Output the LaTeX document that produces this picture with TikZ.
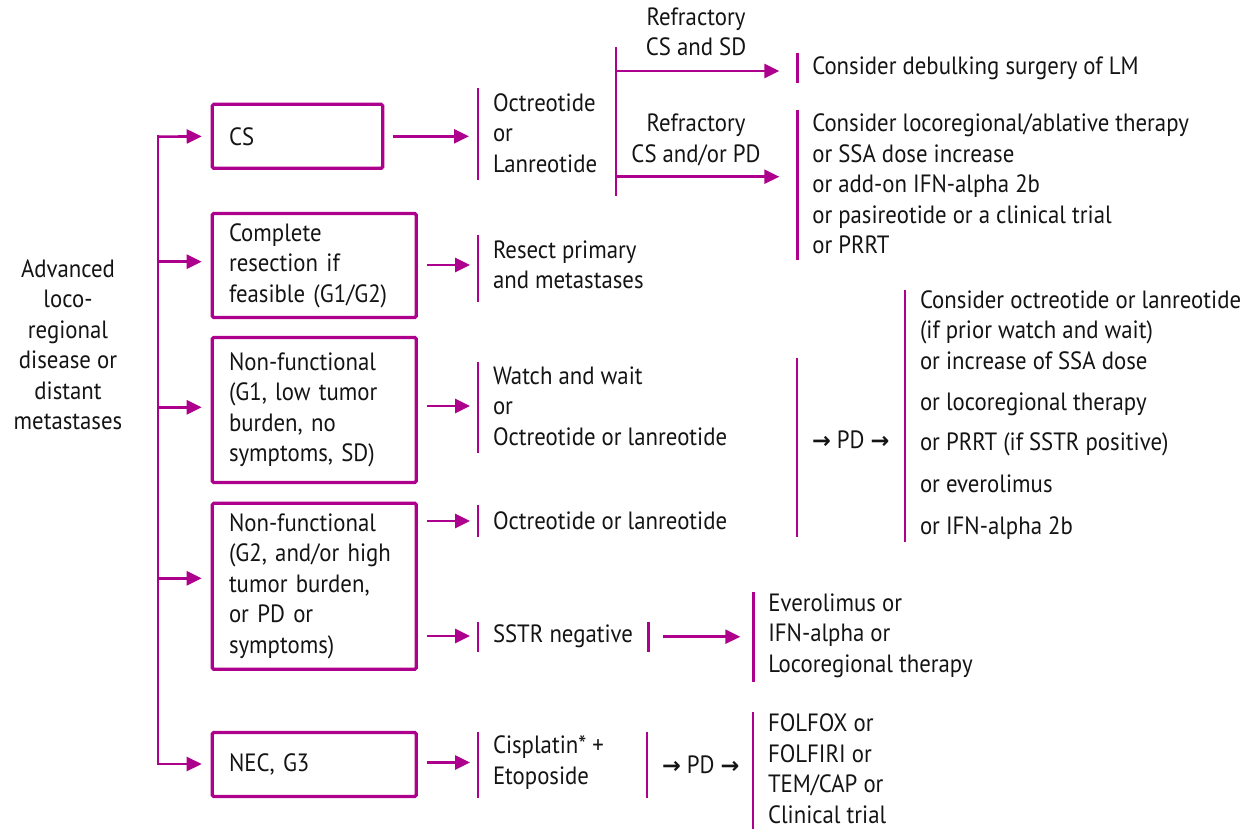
\documentclass[tikz,border=0pt]{standalone}
\usepackage{fontspec}
\setmainfont{PT Sans}[FakeStretch=0.912]
\newfontfamily\arrfont{DejaVu Sans Bold}[Scale=0.9]
\newcommand{\ra}{{\arrfont →}}
\usetikzlibrary{arrows.meta}
\definecolor{mag}{RGB}{173,0,140}
\definecolor{ink}{RGB}{20,20,20}
\tikzset{
  conn/.style={draw=mag, line width=2.6pt},
  arr/.style={conn, -{Triangle[length=15pt,width=14pt]}},
  barline/.style={draw=mag, line width=2.6pt},
  box/.style={draw=mag, line width=3.3pt, rounded corners=1.5pt, anchor=west,
    inner xsep=16.7pt, inner ysep=0pt, outer sep=0pt, align=left, text=ink},
  blk/.style={anchor=west, inner xsep=15pt, inner ysep=0pt, outer sep=0pt,
    align=left, text=ink},
  lbl/.style={inner sep=0pt, align=center, text=ink},
}
% vertical bar on the west side of a text block, between two heights
\newcommand{\westbar}[3]{\draw[barline] (#1.west |- 0,#2) -- (#1.west |- 0,#3);}
\begin{document}
\begin{tikzpicture}[x=1pt, y=-1pt, font=\fontsize{25}{30.5}\selectfont]
\useasboundingbox (0,0) rectangle (1243,829);

% entry label
\node[lbl] (adv) at (68,345) {Advanced\\loco-\\regional\\disease or\\distant\\metastases};

% trunk
\coordinate (t1) at (158,136.7);
\coordinate (t2) at (158,261.7);
\coordinate (t3) at (158,407.3);
\coordinate (t4) at (158,578.3);
\coordinate (t5) at (158,764);
\draw[conn, line cap=rect] (t1) -- (t5);

% first-level boxes
\node[box, text width=137pt, minimum height=64pt] (cs) at (212.3,136.3) {CS};
\node[box, text width=170.6pt, minimum height=104pt] (cr) at (212.3,265.5) {Complete\\resection if\\feasible (G1/G2)};
\node[box, text width=170.6pt, minimum height=145pt] (nf1) at (212.3,410) {Non-functional\\(G1, low tumor\\burden, no\\symptoms, SD)};
\node[box, text width=170.6pt, minimum height=166pt] (nf2) at (212.3,586.3) {Non-functional\\(G2, and/or high\\tumor burden,\\or PD or\\symptoms)};
\node[box, text width=170.6pt, minimum height=64pt] (nec) at (212.3,764.5) {NEC, G3};

\draw[arr, shorten >=10.6pt] (t1) -- (cs.west);
\draw[arr, shorten >=10.6pt] (t2) -- (cr.west |- t2);
\draw[arr, shorten >=10.6pt] (t3) -- (nf1.west |- t3);
\draw[arr, shorten >=10.6pt] (t4) -- (nf2.west |- t4);
\draw[arr, shorten >=10.6pt] (t5) -- (nec.west |- t5);

% second-level text blocks
\node[blk] (oct) at (478,133) {Octreotide\\or\\Lanreotide};
\node[blk] (res) at (478,265) {Resect primary\\and metastases};
\node[blk] (ww) at (478,406) {Watch and wait\\or\\Octreotide or lanreotide};
\node[blk] (oct2) at (478,521) {Octreotide or lanreotide};
\node[blk] (sstr) at (478,636) {SSTR negative};
\node[blk] (cis) at (478,762.5) {Cisplatin* +\\Etoposide};

\westbar{oct}{88.3}{180}
\westbar{res}{235}{301.7}
\westbar{ww}{361.7}{453.3}
\westbar{oct2}{505}{536.7}
\westbar{sstr}{621.7}{651.7}
\westbar{cis}{732}{798}

\draw[arr, shorten <=10.5pt, shorten >=9pt] (cs.east) -- (oct.west |- cs.east);
\draw[arr, shorten <=10.5pt, shorten >=8pt] (cr.east |- res) -- (res.west);
\draw[arr, shorten <=10.5pt, shorten >=8pt] (nf1.east |- ww) -- (ww.west);
\draw[arr, shorten <=10.5pt, shorten >=8pt] (nf2.east |- oct2) -- (oct2.west);
\draw[arr, shorten <=10.5pt, shorten >=8pt] (nf2.east |- sstr) -- (sstr.west);
\draw[arr, shorten <=10.5pt, shorten >=8pt] (nec.east |- cis) -- (cis.west);

% refractory CS branches
\coordinate (v1) at (616,47.3);
\coordinate (v2) at (616,196);
\coordinate (b1) at (616,71);
\coordinate (b2) at (616,176.7);
\draw[conn] (v1) -- (v2);
\node[lbl] (rsd) at (696,32) {Refractory\\CS and SD};
\node[lbl] (rpd) at (696,140) {Refractory\\CS and/or PD};
\node[blk] (deb) at (797.3,68) {Consider debulking surgery of LM};
\node[blk] (loc) at (797.3,184) {Consider locoregional/ablative therapy\\or SSA dose increase\\or add-on IFN-alpha 2b\\or pasireotide or a clinical trial\\or PRRT};
\westbar{deb}{53.3}{83.3}
\westbar{loc}{110}{260}
\draw[arr, shorten >=18pt] (b1) -- (deb.west |- b1);
\draw[arr, shorten >=18pt] (b2) -- (loc.west |- b2);

% progression after watch and wait / SSA
\node[blk] (pd1) at (797,440) {\ra{} PD \ra};
\westbar{pd1}{358}{537}
\node[blk] (opt) at (905,415) {Consider octreotide or lanreotide\\(if prior watch and wait)\\or increase of SSA dose\\[10.5pt]or locoregional therapy\\[10pt]or PRRT (if SSTR positive)\\[11.5pt]or everolimus\\[11.5pt]or IFN-alpha 2b};
\westbar{opt}{290}{542}

% SSTR negative branch
\coordinate (sr) at (648.3,636.7);
\draw[barline] (648.3,621.7) -- (648.3,651.7);
\node[blk] (evr) at (753.3,635.5) {Everolimus or\\IFN-alpha or\\Locoregional therapy};
\westbar{evr}{591.7}{681.7}
\draw[arr, shorten <=15pt, shorten >=13pt] (sr) -- (evr.west |- sr);

% progression after chemotherapy
\node[blk] (pd2) at (647,765) {\ra{} PD \ra};
\westbar{pd2}{732}{798}
\node[blk] (fol) at (753,768.5) {FOLFOX or\\FOLFIRI or\\TEM/CAP or\\Clinical trial};
\westbar{fol}{712}{829}
\end{tikzpicture}
\end{document}
